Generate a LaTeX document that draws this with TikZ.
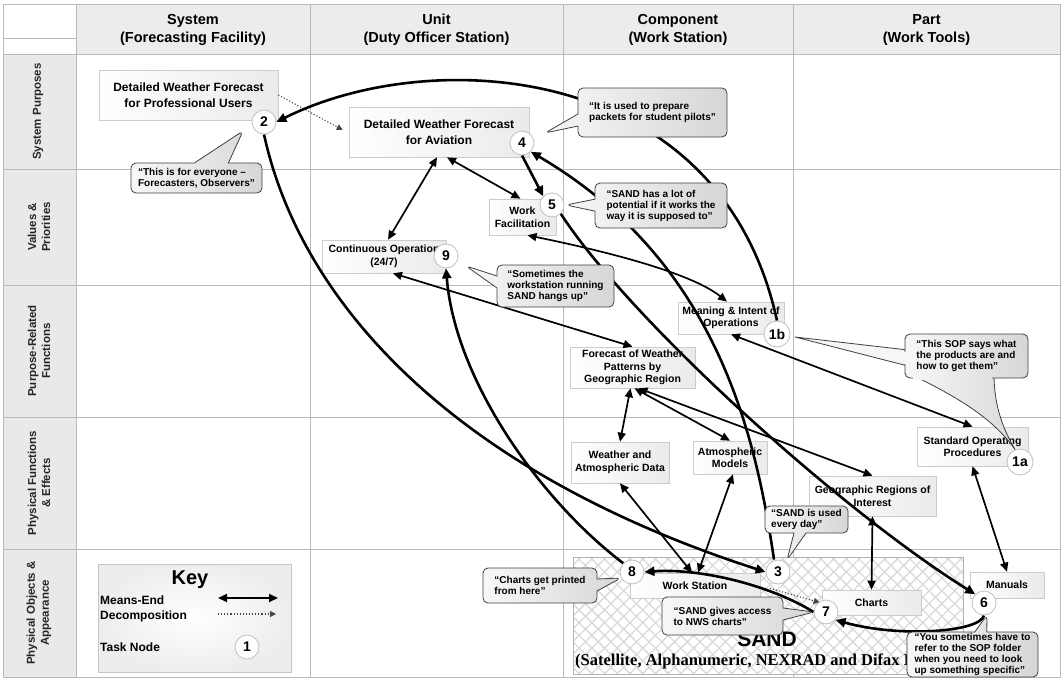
\documentclass[tikz,border=0pt]{standalone}
\usepackage{fontspec}
\setmainfont{Liberation Sans}
\newfontfamily\timesfam{Liberation Serif}
\usetikzlibrary{arrows.meta,shapes.callouts,patterns.meta}
\pgfdeclarelayer{bg}
\pgfdeclarelayer{lines}
\pgfsetlayers{bg,lines,main}
\newcommand{\myfs}[2]{\fontsize{#1}{#2}\selectfont}
\begin{document}
\begin{tikzpicture}[x=1pt,y=-1pt,
  gridline/.style={draw=gray!55,line width=0.8pt},
  hdr/.style={align=center,font=\bfseries\myfs{14.5}{18.5}},
  rowlab/.style={rotate=90,align=center,font=\bfseries\myfs{11.5}{14},text=black!85},
  lbox/.style={draw=gray!40,line width=0.6pt,left color=white,right color=gray!16,align=center,inner sep=1pt,font=\bfseries\myfs{10.5}{12.5}},
  bigbox/.style={lbox,font=\bfseries\myfs{12}{16}},
  task/.style={circle,draw=gray!50,fill=white,line width=0.8pt,minimum size=24pt,inner sep=0pt,font=\bfseries\myfs{14}{14}},
  sayfmt/.style={rounded corners=5pt,draw=black!75,line width=0.8pt,left color=gray!6,right color=gray!32,align=left,inner sep=2pt,font=\bfseries\myfs{10}{11}},
  say/.style={sayfmt,rectangle callout,callout pointer width=12pt},
  me/.style={{Triangle[length=9pt,width=8pt]}-{Triangle[length=9pt,width=8pt]},line width=1.7pt},
  tk/.style={-{Triangle[length=10pt,width=9pt]},line width=2.6pt},
  dec/.style={dotted,line width=1.1pt,draw=gray!55!black,-{Triangle[length=6pt,width=6pt]}}
]
\useasboundingbox (0,0) rectangle (1062,680);
\begin{pgfonlayer}{bg}
\fill[white] (0,0) rectangle (1062,680);
\fill[gray!15] (76,4) rectangle (1060,54);
\fill[gray!17] (3,54) rectangle (76,677);
\foreach \y in {54,169,285,417,549} \draw[gridline] (3,\y) -- (1060,\y);
\foreach \x in {76,310,563,793} \draw[gridline] (\x,4) -- (\x,677);
\draw[gridline] (3,38) -- (76,38);
\draw[gridline] (3,4) rectangle (1060,677);
% headers
\node[hdr] (hS) at (193,30) {System\\(Forecasting Facility)};
\node[hdr] (hU) at (436.5,30) {Unit\\(Duty Officer Station)};
\node[hdr] (hC) at (678,30) {Component\\(Work Station)};
\node[hdr] (hP) at (926.5,30) {Part\\(Work Tools)};
% row labels
\node[rowlab] (r1) at (38,111.5) {System Purposes};
\node[rowlab] (r2) at (39,227) {Values \&\\Priorities};
\node[rowlab] (r3) at (39,351) {Purpose-Related\\Functions};
\node[rowlab] (r4) at (39,483) {Physical Functions\\\& Effects};
\node[rowlab] (r5) at (39,613) {Physical Objects \&\\Appearance};
% SAND area
\fill[white] (573,557) rectangle (963,674);
\fill[pattern={Lines[angle=45,distance=9pt,line width=1.3pt]},pattern color=gray!30] (573,557) rectangle (963,674);
\fill[pattern={Lines[angle=-45,distance=9pt,line width=1.3pt]},pattern color=gray!30] (573,557) rectangle (963,674);
\draw[gray!60,line width=0.8pt] (573,557) rectangle (963,674);
\node[font=\bfseries\myfs{21}{21}] (sand) at (767,639) {SAND};
\node[anchor=west,font=\timesfam\bfseries\myfs{16.5}{16.5},inner sep=0pt] (sat) at (575,661) {(Satellite, Alphanumeric, NEXRAD and Difax Data)};
% boxes
\node[bigbox,minimum width=179pt,minimum height=50pt] (pro) at (188.5,95) {Detailed Weather Forecast\\for Professional Users};
\node[bigbox,minimum width=180pt,minimum height=50pt] (avi) at (439,132) {Detailed Weather Forecast\\for Aviation};
\node[lbox,minimum width=67pt,minimum height=36pt] (wf) at (522.5,217) {Work\\Facilitation};
\node[lbox,minimum width=124pt,minimum height=33pt] (cont) at (384,256.5) {Continuous Operation\\(24/7)};
\node[lbox,minimum width=106pt,minimum height=32pt] (mean) at (731,318) {Meaning \& Intent of\\Operations};
\node[lbox,minimum width=125pt,minimum height=41pt] (fcst) at (632.5,367.5) {Forecast of Weather\\Patterns by\\Geographic Region};
\node[lbox,minimum width=98pt,minimum height=41pt] (wdata) at (620,462.5) {Weather and\\Atmospheric Data};
\node[lbox,minimum width=74pt,minimum height=33pt] (atm) at (730,457.5) {Atmospheric\\Models};
\node[lbox,minimum width=127pt,minimum height=40pt] (geo) at (872.5,496) {Geographic Regions of\\Interest};
\node[lbox,minimum width=111pt,minimum height=39pt] (sop) at (972.5,446.5) {Standard Operating\\Procedures};
\node[lbox,minimum width=130pt,minimum height=25pt] (ws) at (695,585.5) {Work Station};
\node[lbox,minimum width=99pt,minimum height=25pt] (charts) at (871.5,602.5) {Charts};
\node[lbox,minimum width=74pt,minimum height=26pt] (manuals) at (1007,585) {Manuals};
% key
\node[draw=gray!45,line width=0.6pt,inner color=white,outer color=gray!14,minimum width=193pt,minimum height=108pt] (keybox) at (194.5,618) {};
\node[font=\bfseries\myfs{20}{20}] (keyt) at (190,580) {Key};
\node[anchor=west,font=\bfseries\myfs{12}{14},inner sep=0pt] (k1) at (100,600) {Means-End};
\node[anchor=west,font=\bfseries\myfs{12}{14},inner sep=0pt] (k2) at (100,616) {Decomposition};
\node[anchor=west,font=\bfseries\myfs{12}{14},inner sep=0pt] (k3) at (100,647) {Task Node};
\node[task] (k4) at (247,647) {1};
\coordinate (ka1) at (218,598); \coordinate (ka2) at (278,598);
\coordinate (kb1) at (218,614); \coordinate (kb2) at (276,614);
\end{pgfonlayer}
% callouts
\node[say,minimum width=149pt,minimum height=49pt,callout absolute pointer={(545,133)}] (cpil) at (652.5,112.5) {“It is used to prepare\\packets for student pilots”};
\node[say,minimum width=131pt,minimum height=30pt,callout pointer width=34pt,callout absolute pointer={(243,131)}] (cev) at (196.5,178) {“This is for everyone –\\Forecasters, Observers”};
\node[say,minimum width=132pt,minimum height=45pt,callout absolute pointer={(566,205)}] (cpot) at (661,205.5) {“SAND has a lot of\\potential if it works the\\way it is supposed to”};
\node[say,minimum width=117pt,minimum height=42pt,callout absolute pointer={(466,266)}] (chang) at (555.5,286) {“Sometimes the\\workstation running\\SAND hangs up”};
\node[say,minimum width=83pt,minimum height=27pt,callout absolute pointer={(787,560)}] (cday) at (806.5,519.5) {“SAND is used\\every day”};
\node[say,minimum width=114pt,minimum height=35pt,callout absolute pointer={(621,578)}] (cprint) at (540,585.5) {“Charts get printed\\from here”};
\node[say,minimum width=121pt,minimum height=38pt,callout absolute pointer={(814,612)}] (cnws) at (722.5,616) {“SAND gives access\\to NWS charts”};
\node[say,minimum width=131pt,minimum height=45pt,inner ysep=0.5pt,callout absolute pointer={(987,615)}] (cspec) at (972.5,654.5) {“You sometimes have to\\refer to the SOP folder\\when you need to look\\up something specific”};
% SOP callout with two pointers
\filldraw[fill=gray!7,draw=black!75,line width=0.8pt,line join=round] (795,337) -- (908,350) -- (908,366) -- cycle;
\shadedraw[left color=gray!7.5,right color=gray!29.5,draw=black!75,line width=0.8pt,line join=round] (910,374) .. controls (960,398) and (995,420) .. (1016,451) .. controls (1000,425) and (994,400) .. (994,374) -- cycle;
\node[sayfmt,rectangle,minimum width=123pt,minimum height=44pt] (csop) at (966.5,356) {“This SOP says what\\the products are and\\how to get them”};
\fill[gray!7] (903,352) rectangle (909,364);
\shade[left color=gray!7.5,right color=gray!24.5] (913,375.5) rectangle (992,379.5);
% task nodes
\node[task] (n2) at (264,122) {2};
\node[task] (n4) at (522,143) {4};
\node[task] (n5) at (552,205) {5};
\node[task] (n9) at (446,256) {9};
\node[task,minimum size=26pt] (n1b) at (777,334) {1b};
\node[task,minimum size=26pt] (n1a) at (1020,462) {1a};
\node[task] (n3) at (778,572) {3};
\node[task] (n8) at (632,572) {8};
\node[task] (n7) at (826,612) {7};
\node[task] (n6) at (984,603) {6};
% connectors
\begin{pgfonlayer}{lines}
\draw[me] (ka1) -- (ka2);
\draw[dec] (kb1) -- (kb2);
\draw[dec] (pro.east) -- ([xshift=-6pt,yshift=2pt]avi.west);
\draw[dec] ([xshift=-8pt,yshift=-4pt]n3.south) -- ([xshift=-2pt]charts.west);
\draw[me] ([xshift=-2pt]avi.south) -- ([xshift=4pt]cont.north);
\draw[me] ([xshift=8pt]avi.south) -- ([xshift=-2pt]wf.north);
\draw[me] ([xshift=5pt]wf.south) .. controls (600,250) and (690,272) .. ([xshift=-4pt]mean.north);
\draw[me] ([xshift=9pt]cont.south) -- (fcst.north);
\draw[me] (mean.south) -- (sop.north);
\draw[me] ([xshift=-2pt]fcst.south) -- (wdata.north);
\draw[me] ([xshift=2pt]fcst.south) -- (atm.north);
\draw[me] ([xshift=6pt]fcst.south) -- (geo.north);
\draw[me] (wdata.south) -- ([xshift=-3pt]ws.north);
\draw[me] ([xshift=3pt]atm.south) -- ([xshift=3pt]ws.north);
\draw[me] (geo.south) -- (charts.north);
\draw[me] (sop.south) -- (manuals.north);
\draw[tk] (n1b.north) .. controls (720,60) and (430,45) .. (n2.east);
\draw[tk] (n2.south) .. controls (300,300) and (450,470) .. (n3.west);
\draw[tk] (n8.north west) .. controls (540,500) and (455,380) .. (n9.south);
\draw[tk] (n4.south) -- (n5.north west);
\draw[tk] ([xshift=-4pt]n3.north) .. controls (755,430) and (715,260) .. (n4.south east);
\draw[tk] (n5.south east) .. controls (630,320) and (840,510) .. (n6.north west);
\draw[tk] (n7.west) .. controls (770,585) and (700,568) .. (n8.east);
\draw[tk] (n6.south) .. controls (980,632) and (900,638) .. (n7.-40);
\end{pgfonlayer}
\end{tikzpicture}
\end{document}
